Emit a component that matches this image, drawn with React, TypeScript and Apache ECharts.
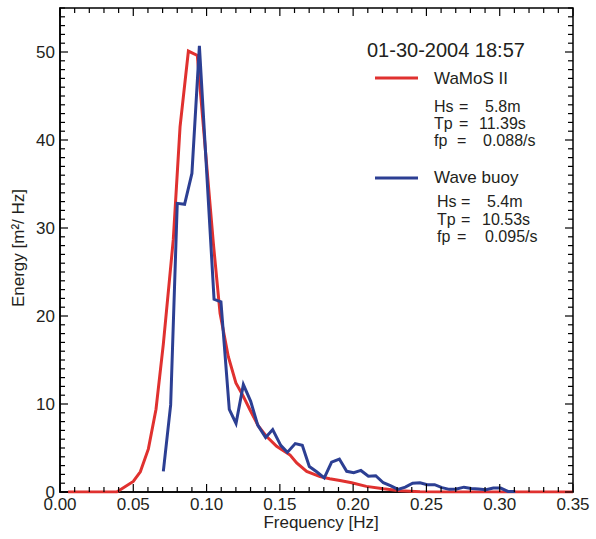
import { useEffect, useRef } from "react";
import * as echarts from "echarts";

// WaMoS II spectrum (frequency [Hz], energy [m²/Hz])
const wamosFreq = [0.0055, 0.0387, 0.05, 0.0548, 0.0603, 0.0655, 0.0705, 0.0773, 0.0819, 0.0876, 0.0937, 0.1046, 0.1092, 0.1148, 0.12, 0.125, 0.1296, 0.1353, 0.141, 0.1478, 0.157, 0.1615, 0.1683, 0.1774, 0.184, 0.191, 0.199, 0.209, 0.2206, 0.232, 0.2456, 0.26, 0.35];
const wamosEnergy = [0, 0, 1.2, 2.3, 4.9, 9.4, 16.8, 28.7, 41.5, 50.1, 49.6, 28.3, 20.3, 15.4, 12.4, 10.9, 9.35, 7.5, 6.3, 5.2, 4.2, 3.3, 2.35, 1.75, 1.5, 1.3, 1.05, 0.64, 0.37, 0.15, 0.03, 0, 0];

// Wave buoy spectrum
const buoyFreq = [0.0705, 0.0755, 0.08, 0.085, 0.09, 0.0951, 0.1051, 0.1098, 0.1155, 0.1201, 0.1251, 0.1301, 0.1349, 0.1403, 0.1451, 0.1506, 0.1551, 0.1605, 0.1653, 0.1701, 0.1751, 0.1803, 0.1853, 0.1906, 0.1956, 0.2004, 0.2053, 0.2104, 0.2154, 0.2206, 0.2254, 0.2306, 0.2356, 0.2406, 0.2456, 0.2506, 0.2556, 0.2606, 0.2656, 0.2706, 0.2756, 0.2806, 0.2856, 0.2906, 0.2956, 0.3006, 0.3056, 0.3106];
const buoyEnergy = [2.35, 9.9, 32.8, 32.7, 36.2, 50.7, 21.9, 21.6, 9.4, 7.8, 12.2, 10.3, 7.6, 6.2, 7.1, 5.3, 4.5, 5.5, 5.3, 2.9, 2.3, 1.6, 3.4, 3.75, 2.35, 2.2, 2.45, 1.8, 1.85, 1.05, 0.72, 0.3, 0.55, 1.0, 1.05, 0.83, 0.83, 0.5, 0.3, 0.34, 0.55, 0.4, 0.34, 0.25, 0.45, 0.45, 0.07, 0.07];

// Axis ranges and ticks
const X_MIN = 0;
const X_MAX = 0.35;
const X_STEP = 0.05;
const X_MINOR_SPLIT = 5;
const Y_MIN = 0;
const Y_MAX = 55;
const Y_STEP = 10;
const Y_MINOR_SPLIT = 10;

const dateLabel = "01-30-2004 18:57";
const seriesNames = ["WaMoS II", "Wave buoy"];
const wamosStats = [["Hs", "=", "5.8m"], ["Tp", "=", "11.39s"], ["fp", "=", "0.088/s"]];
const buoyStats = [["Hs", "=", "5.4m"], ["Tp", "=", "10.53s"], ["fp", "=", "0.095/s"]];

const RED = "#e0312f";
const BLUE = "#2c3f93";
const TXT = "#231f20";
const FONT = "'Liberation Sans', Arial, Helvetica, sans-serif";

// tick list: [value, kind] kind 0 = x major, 1 = x minor, 2 = y major, 3 = y minor
function buildTicks(): number[][] {
  const out: number[][] = [];
  const xMinorStep = X_STEP / X_MINOR_SPLIT;
  const nx = Math.round((X_MAX - X_MIN) / xMinorStep);
  for (let i = 0; i <= nx; i++) {
    const v = +(X_MIN + i * xMinorStep).toFixed(6);
    out.push([v, i % X_MINOR_SPLIT === 0 ? 0 : 1]);
  }
  const yMinorStep = Y_STEP / Y_MINOR_SPLIT;
  const ny = Math.round((Y_MAX - Y_MIN) / yMinorStep);
  for (let i = 0; i <= ny; i++) {
    const v = +(Y_MIN + i * yMinorStep).toFixed(6);
    out.push([v, i % Y_MINOR_SPLIT === 0 ? 2 : 3]);
  }
  return out;
}

export default function App() {
  const ref = useRef<HTMLDivElement>(null);
  useEffect(() => {
    if (!ref.current) return;
    const chart = echarts.init(ref.current, null, { renderer: "svg" });

    const text = (x: number, y: number, t: string, size = 17) => ({
      type: "text",
      x,
      y,
      style: {
        text: t,
        fill: TXT,
        font: `${size}px ${FONT}`,
        lineHeight: size - 2,
        textVerticalAlign: "middle",
        textAlign: "left",
      },
    });

    const statTexts = (rows: string[][], x0: number, xEq: number[], xVal: number[], ys: number[]) =>
      rows.flatMap((r, i) => [
        text(x0, ys[i], r[0], 16),
        text(xEq[i], ys[i], r[1], 16),
        text(xVal[i], ys[i], r[2], 16),
      ]);

    const graphics: any[] = [
      text(367, 50, dateLabel, 20),
      { type: "line", shape: { x1: 375, y1: 78, x2: 418, y2: 78 }, style: { stroke: RED, lineWidth: 3 } },
      text(434, 78, seriesNames[0]),
      ...statTexts(wamosStats, 434, [459, 459, 457], [485, 479, 483], [106, 123.5, 140.5]),
      { type: "line", shape: { x1: 375, y1: 178, x2: 418, y2: 178 }, style: { stroke: BLUE, lineWidth: 3 } },
      text(434, 177, seriesNames[1]),
      ...statTexts(buoyStats, 437, [461, 461, 457], [487, 482, 485], [201.5, 219.5, 236.5]),
      {
        type: "text",
        x: 321,
        y: 522,
        style: { text: "Frequency [Hz]", fill: TXT, font: `17px ${FONT}`, textAlign: "center", textVerticalAlign: "middle" },
      },
      {
        type: "text",
        x: 18,
        y: 248,
        rotation: Math.PI / 2,
        style: { text: "Energy [m²/ Hz]", fill: TXT, font: `17px ${FONT}`, textAlign: "center", textVerticalAlign: "middle" },
      },
    ];

    const tickStyle = { stroke: "#000", lineWidth: 1.2 };

    chart.setOption({
      animation: false,
      grid: {
        left: 60,
        top: 8,
        width: 513,
        height: 484,
        containLabel: false,
        show: true,
        borderColor: "#000",
        borderWidth: 1.5,
        backgroundColor: "transparent",
      },
      xAxis: {
        type: "value",
        min: X_MIN,
        max: X_MAX,
        interval: X_STEP,
        axisLine: { show: true, lineStyle: { color: "#000", width: 1.5 } },
        axisTick: { show: false },
        splitLine: { show: false },
        axisLabel: {
          color: TXT,
          fontSize: 17,
          fontFamily: FONT,
          margin: 4,
          formatter: (v: number) => v.toFixed(2),
        },
      },
      yAxis: {
        type: "value",
        min: Y_MIN,
        max: Y_MAX,
        interval: Y_STEP,
        axisLine: { show: true, lineStyle: { color: "#000", width: 1.5 } },
        axisTick: { show: false },
        splitLine: { show: false },
        axisLabel: {
          color: TXT,
          fontSize: 17,
          fontFamily: FONT,
          margin: 5,
          showMaxLabel: false,
          formatter: (v: number) => (v % Y_STEP === 0 ? String(v) : ""),
        },
      },
      series: [
        {
          name: "ticks",
          type: "custom",
          silent: true,
          clip: false,
          z: 10,
          data: buildTicks(),
          renderItem: (_params: any, api: any) => {
            const v = api.value(0);
            const kind = api.value(1);
            if (kind < 2) {
              const len = kind === 0 ? 8 : 5;
              const b = api.coord([v, Y_MIN]);
              const t = api.coord([v, Y_MAX]);
              return {
                type: "group",
                children: [
                  { type: "line", shape: { x1: b[0], y1: b[1], x2: b[0], y2: b[1] - len }, style: tickStyle },
                  { type: "line", shape: { x1: t[0], y1: t[1], x2: t[0], y2: t[1] + len }, style: tickStyle },
                ],
              };
            }
            const len = kind === 2 ? 8 : 5;
            const l = api.coord([X_MIN, v]);
            const r = api.coord([X_MAX, v]);
            return {
              type: "group",
              children: [
                { type: "line", shape: { x1: l[0], y1: l[1], x2: l[0] + len, y2: l[1] }, style: tickStyle },
                { type: "line", shape: { x1: r[0], y1: r[1], x2: r[0] - len, y2: r[1] }, style: tickStyle },
              ],
            };
          },
        },
        {
          name: seriesNames[0],
          type: "line",
          data: wamosFreq.map((f, i) => [f, wamosEnergy[i]]),
          showSymbol: false,
          lineStyle: { color: RED, width: 3, join: "miter" },
          itemStyle: { color: RED },
          z: 2,
        },
        {
          name: seriesNames[1],
          type: "line",
          data: buoyFreq.map((f, i) => [f, buoyEnergy[i]]),
          showSymbol: false,
          lineStyle: { color: BLUE, width: 3, join: "miter" },
          itemStyle: { color: BLUE },
          z: 3,
        },
      ],
      graphic: graphics,
    });

    return () => chart.dispose();
  }, []);

  return <div ref={ref} style={{ width: 596, height: 539, position: "absolute", left: 0, top: 0 }} />;
}
